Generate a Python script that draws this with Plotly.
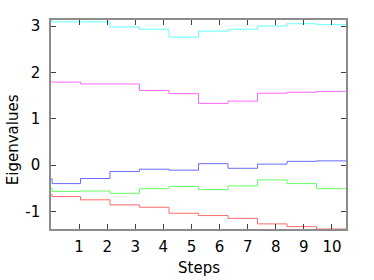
import plotly.graph_objects as go

# step positions (x), first tiny point for initial value
steps_x = [0, 0.04, 1.05, 2.1, 3.15, 4.2, 5.25, 6.3, 7.35, 8.4, 9.45, 10.5]

cyan_vals = [3.13, 3.09, 3.09, 2.98, 2.93, 2.76, 2.89, 2.93, 3.00, 3.05, 3.03, 3.03]
magenta_vals = [1.80, 1.79, 1.75, 1.75, 1.61, 1.54, 1.33, 1.38, 1.55, 1.57, 1.59, 1.59]
blue_vals = [-0.30, -0.40, -0.29, -0.14, -0.09, -0.11, 0.03, -0.07, 0.02, 0.08, 0.09, 0.09]
green_vals = [-0.50, -0.57, -0.56, -0.61, -0.51, -0.46, -0.53, -0.45, -0.32, -0.40, -0.51, -0.51]
red_vals = [-0.64, -0.68, -0.75, -0.86, -0.91, -1.04, -1.09, -1.15, -1.27, -1.33, -1.38, -1.38]

x_tickvals = [1, 2, 3, 4, 5, 6, 7, 8, 9, 10]
y_tickvals = [-1, 0, 1, 2, 3]
y_ticktext = ["-1", "0", "1", "2", "3"]

series = [
    (red_vals, "#ff6a6a"),
    (green_vals, "#66ff66"),
    (blue_vals, "#6a6aff"),
    (magenta_vals, "#ff66ff"),
    (cyan_vals, "#66ffff"),
]

fig = go.Figure()
for vals, col in series:
    fig.add_trace(go.Scatter(x=steps_x, y=vals, mode="lines",
                             line=dict(color=col, width=1, shape="hv"),
                             showlegend=False, hoverinfo="skip"))

font = dict(family="DejaVu Sans", size=15, color="#000000")
axis_common = dict(showline=True, linecolor="#8c8c8c", linewidth=1.5, mirror="allticks",
                   ticks="inside", ticklen=5, tickcolor="#404040", tickwidth=1,
                   showgrid=False, zeroline=False, tickfont=font, automargin=False)

fig.update_xaxes(range=[0, 10.5], tickvals=x_tickvals, ticklabelstandoff=3, **axis_common)
fig.update_yaxes(range=[-1.38, 3.13], tickvals=y_tickvals, ticktext=y_ticktext,
                 ticklabelstandoff=6, **axis_common)

W, H = 374, 280
L, T = 51, 20
R = W - 346
B = H - 228.7
fig.update_layout(width=W, height=H, margin=dict(l=L, r=R, t=T, b=B),
                  plot_bgcolor="white", paper_bgcolor="white", font=font)
plot_h = H - T - B
plot_w = W - L - R
fig.add_annotation(text="Steps", xref="paper", yref="paper",
                   x=0.5, y=-(268 - 228.7) / plot_h, showarrow=False, font=font,
                   xanchor="center", yanchor="middle")
fig.add_annotation(text="Eigenvalues", xref="paper", yref="paper",
                   x=-(51 - 13) / plot_w, y=(228.7 - 140) / plot_h, showarrow=False, font=font,
                   textangle=-90, xanchor="center", yanchor="middle")

fig.write_html("out.html", config={"displayModeBar": False},
               post_script="document.body.style.margin='0';document.body.style.overflow='hidden';")
